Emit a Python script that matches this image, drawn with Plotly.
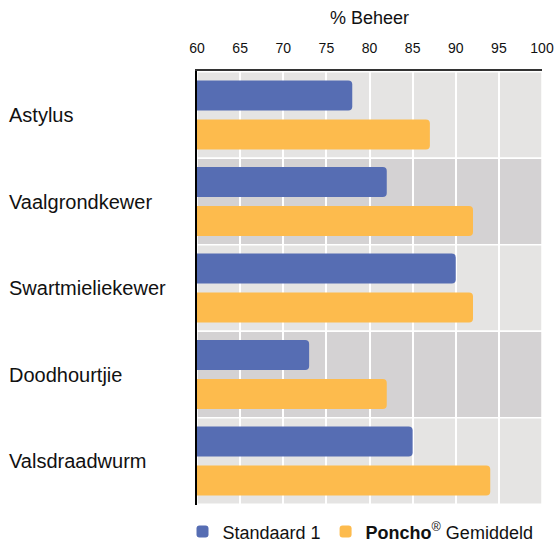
import plotly.graph_objects as go

categories = ["Astylus", "Vaalgrondkewer", "Swartmieliekewer", "Doodhourtjie", "Valsdraadwurm"]
standaard = [78, 82, 90, 73, 85]
poncho = [87, 92, 92, 82, 94]
x_ticks = list(range(60, 101, 5))

FONT = "Helvetica, Arial, Liberation Sans, sans-serif"
BLUE = "#566db3"
ORANGE = "#fdbb4d"
BAND_LIGHT = "#e5e4e3"
BAND_DARK = "#d4d2d3"

fig = go.Figure()

fig.add_trace(go.Bar(
    y=categories,
    x=standaard,
    orientation="h",
    name="Standaard 1",
    marker=dict(color=BLUE, line=dict(width=0))
))

fig.add_trace(go.Bar(
    y=categories,
    x=poncho,
    orientation="h",
    name="<b>Poncho</b><sup>®</sup> Gemiddeld",
    marker=dict(color=ORANGE, line=dict(width=0))
))

# alternating background bands, one per category
for i, cat in enumerate(categories):
    fig.add_shape(
        type="rect",
        xref="paper", yref="y",
        x0=0, x1=1,
        y0=i - 0.5, y1=i + 0.5,
        fillcolor=BAND_LIGHT if i % 2 == 0 else BAND_DARK,
        line=dict(color="white", width=1.5),
        layer="below"
    )
    fig.add_annotation(
        xref="paper", yref="y",
        x=0, y=cat,
        xshift=-190,
        xanchor="left",
        text=cat,
        showarrow=False,
        font=dict(size=20, color="#111111", family=FONT)
    )

fig.update_layout(
    width=558,
    height=542,
    margin=dict(l=197, r=16, t=71, b=37, autoexpand=False),
    paper_bgcolor="white",
    plot_bgcolor="white",
    barmode="group",
    bargap=0.1,
    bargroupgap=0.23,
    barcornerradius=4,
    font=dict(family=FONT, color="#111111"),
    showlegend=True,
    legend=dict(
        orientation="h",
        x=-0.042, xanchor="left",
        y=-0.062, yanchor="middle",
        font=dict(size=18),
        traceorder="normal",
        itemwidth=30
    ),
    xaxis=dict(
        side="top",
        range=[60, 100],
        tickvals=x_ticks,
        ticks="",
        tickfont=dict(size=14),
        ticklabelstandoff=11,
        showgrid=True,
        gridcolor="white",
        gridwidth=1.5,
        showline=True,
        linecolor="#333333",
        linewidth=1.5,
        zeroline=False,
        automargin=False,
        title=dict(text="% Beheer", font=dict(size=18), standoff=10)
    ),
    yaxis=dict(
        autorange="reversed",
        showticklabels=False,
        ticks="",
        showgrid=False,
        showline=True,
        linecolor="black",
        linewidth=1.5,
        zeroline=False,
        automargin=False
    )
)

fig.write_html(
    "out.html",
    config={"displayModeBar": False},
    post_script="document.body.style.margin='0';"
)
